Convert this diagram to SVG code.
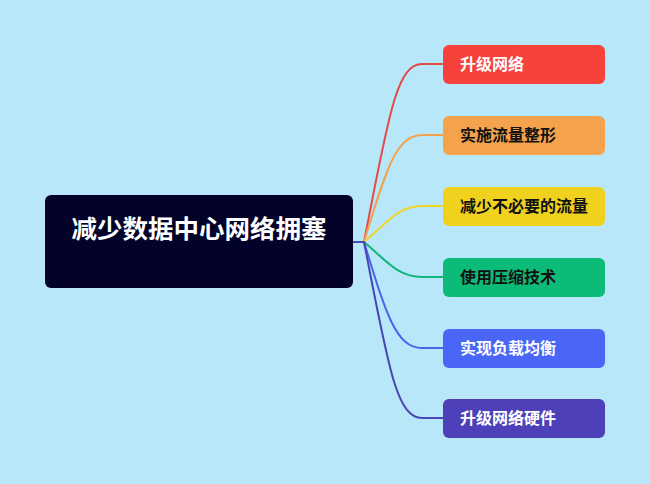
<svg xmlns="http://www.w3.org/2000/svg" width="650" height="484" viewBox="0 0 650 484">
<style>
.lbl{font-family:"Noto Sans CJK SC","Noto Sans",sans-serif;font-weight:700;font-size:16px}
.w{fill:#ffffff}
.k{fill:#111111}
.c{fill:none;stroke-width:2;stroke-linecap:round}
</style>
<rect width="650" height="484" fill="#b8e7fa"/>
<g id="connectors">
<path class="c" stroke="#4a4ab8" d="M353 242 L364 242"/>
<path class="c" stroke="#e34b44" d="M364 242 C388 120 396 64 422 64 L443 64"/>
<path class="c" stroke="#f2a24e" d="M364 242 C386 170 396 135 422 135 L443 135"/>
<path class="c" stroke="#f0d42a" d="M364 242 C388 222 398 206 422 206 L443 206"/>
<path class="c" stroke="#14b57c" d="M364 242 C388 262 398 277 422 277 L443 277"/>
<path class="c" stroke="#4a64ea" d="M364 242 C386 314 396 348 422 348 L443 348"/>
<path class="c" stroke="#4a44b4" d="M364 242 C388 364 396 418 422 418 L443 418"/>
</g>
<g id="root">
<rect x="45" y="195" width="308" height="93" rx="6" fill="#03032a"/>
<text x="199" y="238" text-anchor="middle" class="w" style="font-family:'Noto Sans CJK SC','Noto Sans',sans-serif;font-weight:700;font-size:25.5px">减少数据中心网络拥塞</text>
</g>
<g id="n1">
<rect x="443" y="45" width="162" height="39" rx="6" fill="#f7413b"/>
<text x="460" y="70" class="lbl w">升级网络</text>
</g>
<g id="n2">
<rect x="443" y="116" width="162" height="39" rx="6" fill="#f5a24c"/>
<text x="460" y="141" class="lbl k">实施流量整形</text>
</g>
<g id="n3">
<rect x="443" y="187" width="162" height="39" rx="6" fill="#f0d21e"/>
<text x="460" y="212" class="lbl k">减少不必要的流量</text>
</g>
<g id="n4">
<rect x="443" y="258" width="162" height="39" rx="6" fill="#0dbb78"/>
<text x="460" y="283" class="lbl k">使用压缩技术</text>
</g>
<g id="n5">
<rect x="443" y="329" width="162" height="39" rx="6" fill="#4a66f6"/>
<text x="460" y="354" class="lbl w">实现负载均衡</text>
</g>
<g id="n6">
<rect x="443" y="399" width="162" height="39" rx="6" fill="#4d40b8"/>
<text x="460" y="424" class="lbl w">升级网络硬件</text>
</g>
</svg>
